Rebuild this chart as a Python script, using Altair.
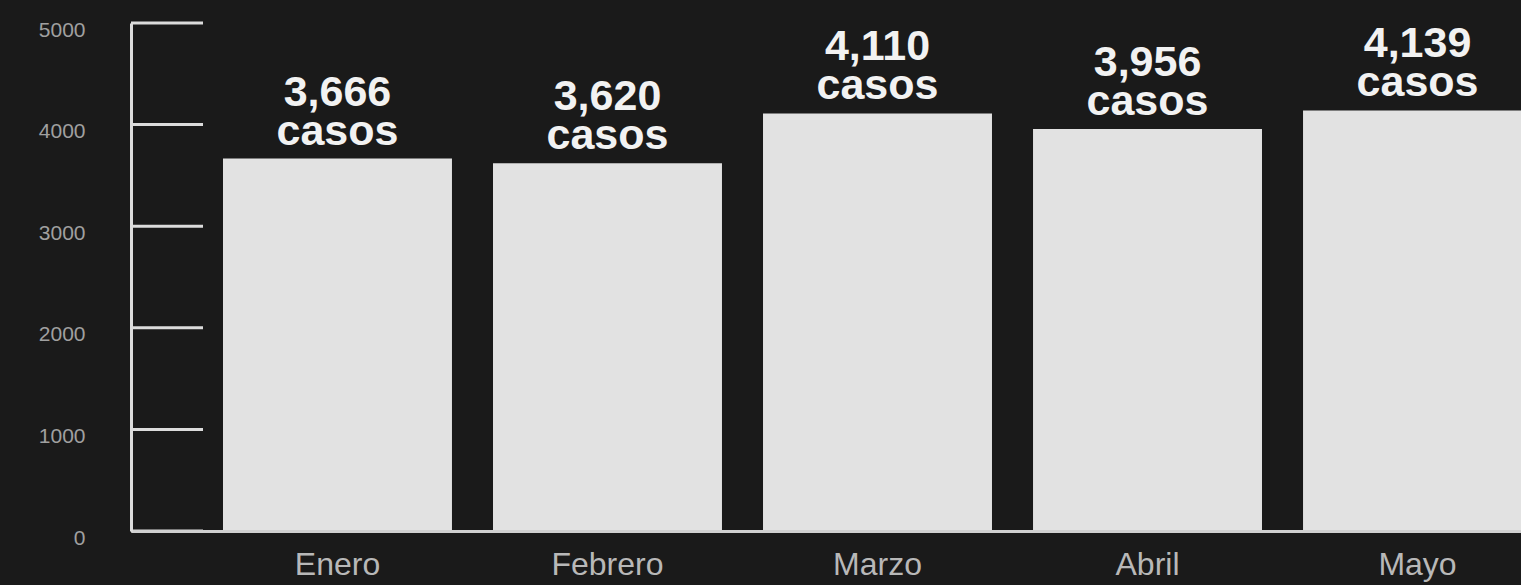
import altair as alt
import pandas as pd

meses = ["Enero", "Febrero", "Marzo", "Abril", "Mayo"]
casos = [3666, 3620, 4110, 3956, 4139]
y_ticks = [0, 1000, 2000, 3000, 4000, 5000]

df = pd.DataFrame({
    "mes": meses,
    "casos": casos,
    "etiqueta": [f"{v:,}\ncasos" for v in casos],
})
ticks_df = pd.DataFrame({"v": y_ticks})

BG = "#1a1a1a"
xscale = alt.Scale(domain=meses, range=[0, 1493], paddingInner=0.152, paddingOuter=0.3407)
yscale = alt.Scale(domain=[0, 5000], nice=False)

bars = alt.Chart(df).mark_bar(color="#e2e2e2", clip=True).encode(
    x=alt.X("mes:N", scale=xscale, sort=meses,
            axis=alt.Axis(title=None, labelAngle=0, domain=True, domainColor="#d0d0d0",
                          domainWidth=3, ticks=False, tickSize=0, labelPadding=18,
                          labelFont="Liberation Sans", labelFontSize=32,
                          labelColor="#b8b8b8", zindex=1)),
    y=alt.Y("casos:Q", scale=yscale,
            axis=alt.Axis(title=None, values=y_ticks, format="d", domain=True,
                          domainColor="#dcdcdc", domainWidth=3, ticks=False, tickSize=0,
                          grid=False, labelPadding=46, labelFont="Liberation Sans",
                          labelFontSize=21, labelColor="#a0a0a0", labelOffset=7, zindex=1)),
)

text = alt.Chart(df).mark_text(
    lineBreak="\n", baseline="alphabetic", align="center", dy=-53,
    font="Liberation Sans", fontWeight="bold", fontSize=43, lineHeight=39,
    color="#f2f2f2", clip=True,
).encode(
    x=alt.X("mes:N", scale=xscale, sort=meses),
    y=alt.Y("casos:Q", scale=yscale),
    text="etiqueta:N",
)

tick_rules = alt.Chart(ticks_df).mark_rule(color="#dcdcdc", strokeWidth=3).encode(
    x=alt.value(0), x2=alt.value(72),
    y=alt.Y("v:Q", scale=yscale),
)

chart = alt.layer(bars, tick_rules, text).properties(
    width=1390, height=508,
    background=BG,
    padding={"left": 131, "top": 23, "right": 0, "bottom": 54},
    autosize=alt.AutoSizeParams(type="none"),
).configure_view(stroke=None)

chart.save("out.html", embed_options={"renderer": "svg", "actions": False})
